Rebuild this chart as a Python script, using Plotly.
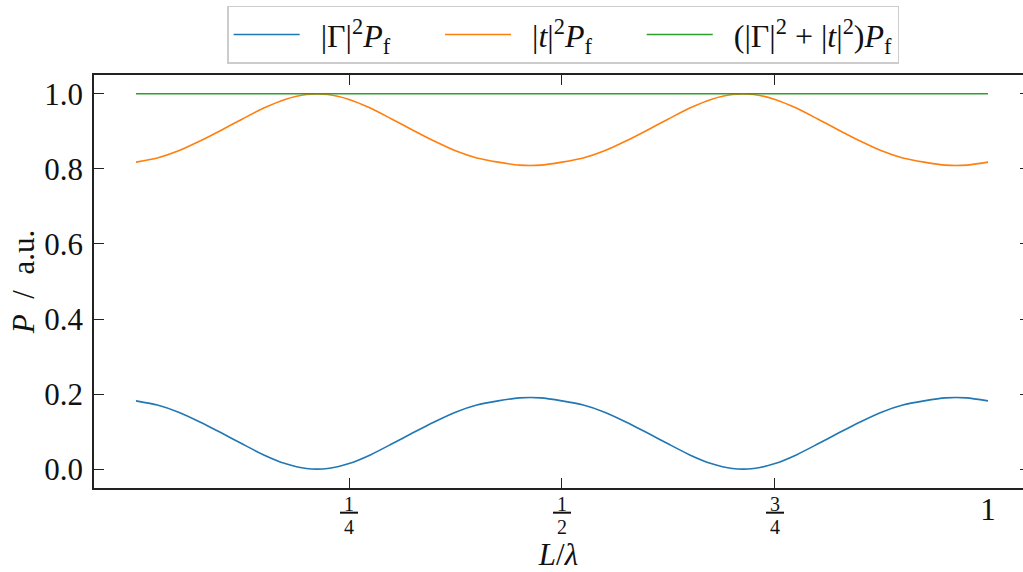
import plotly.graph_objects as go

# Position along the slab, in wavelengths
L_over_lambda = [0.000, 0.025, 0.050, 0.075, 0.100, 0.125, 0.150, 0.175, 0.200, 0.225,
                 0.250, 0.275, 0.300, 0.325, 0.350, 0.375, 0.400, 0.425, 0.450, 0.475,
                 0.500, 0.525, 0.550, 0.575, 0.600, 0.625, 0.650, 0.675, 0.700, 0.725,
                 0.750, 0.775, 0.800, 0.825, 0.850, 0.875, 0.900, 0.925, 0.950, 0.975,
                 1.000]

# Reflected power |Gamma|^2 P_f
reflected = [0.182, 0.171, 0.152, 0.126, 0.097, 0.067, 0.038, 0.015, 0.002, 0.002,
             0.015, 0.038, 0.067, 0.097, 0.126, 0.152, 0.171, 0.182, 0.190, 0.190,
             0.182, 0.171, 0.152, 0.126, 0.097, 0.067, 0.038, 0.015, 0.002, 0.002,
             0.015, 0.038, 0.067, 0.097, 0.126, 0.152, 0.171, 0.182, 0.190, 0.190,
             0.182]

# Transmitted power |t|^2 P_f
transmitted = [0.818, 0.829, 0.848, 0.874, 0.903, 0.933, 0.962, 0.985, 0.998, 0.998,
               0.985, 0.962, 0.933, 0.903, 0.874, 0.848, 0.829, 0.818, 0.810, 0.810,
               0.818, 0.829, 0.848, 0.874, 0.903, 0.933, 0.962, 0.985, 0.998, 0.998,
               0.985, 0.962, 0.933, 0.903, 0.874, 0.848, 0.829, 0.818, 0.810, 0.810,
               0.818]

# Sum of both
total = [1.0] * len(L_over_lambda)

x_tick_vals = [0.25, 0.5, 0.75]
x_tick_num = ["1", "1", "3"]
x_tick_den = ["4", "2", "4"]
y_tick_vals = [0.0, 0.2, 0.4, 0.6, 0.8, 1.0]
y_tick_text = ["0.0", "0.2", "0.4", "0.6", "0.8", "1.0"]

FONT = "Liberation Serif"
AX = "#222222"
LEAD = "\u2002"
GAP = "\u2003\u2009\u2009"


def stacked_fraction(num, den, size=20):
    # numerator underlined as the fraction bar, denominator two short lines below
    big = "<span style='font-size:%dpx'>%s</span>"
    return big % (size, "<u>\u2009" + num + "\u2009</u>") + "<br><br>" + big % (size, den)


x_tick_text = [stacked_fraction(n, d) for n, d in zip(x_tick_num, x_tick_den)]

fig = go.Figure()
fig.add_trace(go.Scatter(
    x=L_over_lambda, y=reflected, mode="lines",
    name=LEAD + "|Γ|<sup>2</sup><i>P</i><sub>f</sub>" + GAP,
    line=dict(color="#1f77b4", width=1.6, shape="spline", smoothing=0.6)))
fig.add_trace(go.Scatter(
    x=L_over_lambda, y=transmitted, mode="lines",
    name=LEAD + "|<i>t</i>|<sup>2</sup><i>P</i><sub>f</sub>" + GAP,
    line=dict(color="#ff7f0e", width=1.6, shape="spline", smoothing=0.6)))
fig.add_trace(go.Scatter(
    x=L_over_lambda, y=total, mode="lines", xaxis="x2", yaxis="y2",
    name=LEAD + "(|Γ|<sup>2</sup> + |<i>t</i>|<sup>2</sup>)<i>P</i><sub>f</sub>",
    line=dict(color="#2ca02c", width=1.6)))

fig.update_layout(
    width=1023, height=572,
    margin=dict(l=94, r=0, t=75, b=84),
    paper_bgcolor="white", plot_bgcolor="white",
    font=dict(family=FONT, size=30, color="#111111"),
    showlegend=True,
    legend=dict(
        orientation="h", x=0.505, xanchor="center",
        yref="container", y=0.99, yanchor="top",
        bordercolor="#cccccc", borderwidth=1.5, bgcolor="white",
        font=dict(family=FONT, size=32), itemwidth=66,
    ),
    xaxis=dict(
        range=[-0.0493, 1.0411], tickvals=x_tick_vals, ticktext=x_tick_text,
        tickfont=dict(family=FONT, size=9),
        ticks="inside", ticklen=10, tickwidth=1.4, tickcolor=AX,
        showline=True, linecolor=AX, linewidth=1.8, mirror="ticks",
        showgrid=False, zeroline=False, ticklabelstandoff=10,
        title=dict(text="<i>L</i>/<i>λ</i>", font=dict(family=FONT, size=31), standoff=0),
    ),
    xaxis2=dict(
        overlaying="x", matches="x", anchor="y2", side="bottom",
        tickvals=[1.0], ticktext=["1"], tickfont=dict(family=FONT, size=31),
        ticks="", showline=False, showgrid=False, zeroline=False,
        ticklabelstandoff=0,
    ),
    yaxis=dict(
        range=[-0.05, 1.05], tickvals=y_tick_vals, ticktext=y_tick_text,
        tickfont=dict(family=FONT, size=31),
        ticks="inside", ticklen=10, tickwidth=1.4, tickcolor=AX,
        showline=True, linecolor=AX, linewidth=1.8, mirror=False,
        showgrid=False, zeroline=False, ticklabelstandoff=3,
        title=dict(text="<i>P</i>\u2002/\u2002a.u.", font=dict(family=FONT, size=31), standoff=0),
    ),
    yaxis2=dict(
        overlaying="y", matches="y", anchor="x2", side="right",
        tickvals=y_tick_vals, showticklabels=False,
        ticks="inside", ticklen=3, tickwidth=1.4, tickcolor=AX,
        showline=False, showgrid=False, zeroline=False,
    ),
)

fig.write_html("out.html")
